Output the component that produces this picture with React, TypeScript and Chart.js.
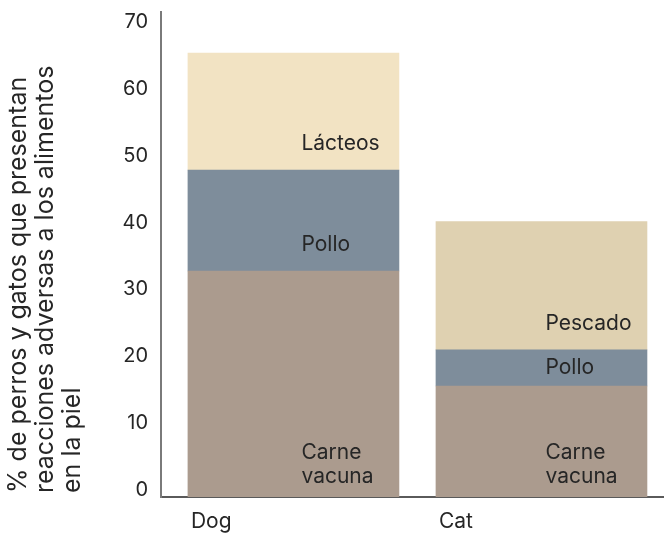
import React, { useEffect, useRef } from 'react';
import { Chart, registerables } from 'chart.js';

Chart.register(...registerables);

const categories = ['Dog', 'Cat'];
const carneVacuna = [33.8, 16.6];
const pollo = [15.1, 5.4];
const lacteos: (number | null)[] = [17.5, null];
const pescado: (number | null)[] = [null, 19.2];
const yTicks = [0, 10, 20, 30, 40, 50, 60, 70];
const yTitleLines = [
  '% de perros y gatos que presentan',
  'reacciones adversas a los alimentos',
  'en la piel',
];
const seriesNames = {
  carne: ['Carne', 'vacuna'],
  pollo: ['Pollo'],
  lacteos: ['Lácteos'],
  pescado: ['Pescado'],
};

const FONT = 'Inter, "Noto Sans", sans-serif';
const TEXT = '#262626';
const BAR_W = 211;

function toPoints(arr: (number | null)[]) {
  return arr
    .map((v, i) => (v == null ? null : { x: i, y: v }))
    .filter((p) => p !== null) as { x: number; y: number }[];
}

export default function App() {
  const ref = useRef<HTMLCanvasElement | null>(null);

  useEffect(() => {
    const canvas = ref.current;
    if (!canvas) return;

    const labelPlugin = {
      id: 'segLabels',
      afterDatasetsDraw(chart: any) {
        const ctx = chart.ctx;
        ctx.save();
        ctx.fillStyle = TEXT;
        ctx.font = `21px ${FONT}`;
        ctx.textAlign = 'left';
        ctx.textBaseline = 'middle';
        const shift = [8, 4];
        chart.data.datasets.forEach((ds: any, di: number) => {
          const meta = chart.getDatasetMeta(di);
          const lines: string[] = ds.segLines;
          meta.data.forEach((el: any, j: number) => {
            const idx = ds.data[j].x;
            const top = el.y;
            const bottom = el.base;
            const h = bottom - top;
            const x = el.x + shift[idx];
            const lh = 24;
            let lastY: number;
            if (h < 50) {
              lastY = (top + bottom) / 2 + ((lines.length - 1) * lh) / 2;
            } else {
              lastY = bottom - (lines.length > 1 ? 20 : 26);
            }
            lines.forEach((t, k) => {
              ctx.fillText(t, x, lastY - (lines.length - 1 - k) * lh);
            });
          });
        });
        ctx.restore();
      },
      afterDraw(chart: any) {
        const ctx = chart.ctx;
        const xs = chart.scales.x;
        ctx.save();
        ctx.fillStyle = TEXT;
        ctx.font = `21px ${FONT}`;
        ctx.textAlign = 'left';
        ctx.textBaseline = 'middle';
        categories.forEach((c, i) => {
          const cx = xs.getPixelForValue(i);
          ctx.fillText(c, cx - BAR_W / 2 + 3, 522);
        });
        ctx.font = `25px ${FONT}`;
        const xsPos = [18, 45, 72];
        yTitleLines.forEach((t, i) => {
          ctx.save();
          ctx.translate(xsPos[i], 493);
          ctx.rotate(-Math.PI / 2);
          ctx.textAlign = 'left';
          ctx.textBaseline = 'middle';
          ctx.fillText(t, 0, 0);
          ctx.restore();
        });
        ctx.restore();
      },
    };

    const chart = new Chart(canvas, {
      type: 'bar',
      data: {
        datasets: [
          {
            label: 'Carne vacuna',
            data: toPoints(carneVacuna),
            backgroundColor: '#ab9b8e',
            barThickness: BAR_W,
            segLines: seriesNames.carne,
          } as any,
          {
            label: 'Pollo',
            data: toPoints(pollo),
            backgroundColor: '#7e8d9b',
            barThickness: BAR_W,
            segLines: seriesNames.pollo,
          } as any,
          {
            label: 'Lácteos',
            data: toPoints(lacteos),
            backgroundColor: '#f2e3c3',
            barThickness: BAR_W,
            segLines: seriesNames.lacteos,
          } as any,
          {
            label: 'Pescado',
            data: toPoints(pescado),
            backgroundColor: '#dfd1b1',
            barThickness: BAR_W,
            segLines: seriesNames.pescado,
          } as any,
        ],
      },
      options: {
        responsive: false,
        animation: false,
        layout: { padding: { top: 12, left: 0, right: 0, bottom: 0 } },
        plugins: {
          legend: { display: false },
          tooltip: { enabled: false },
        },
        scales: {
          x: {
            type: 'linear',
            stacked: true,
            offset: false,
            min: -0.534,
            max: 1.494,
            grid: { display: false, drawTicks: false },
            border: { display: true, color: '#5a5a5a', width: 2 },
            ticks: { display: false },
            afterFit: (s: any) => {
              s.height = 37;
              s.paddingLeft = 0;
              s.paddingRight = 0;
            },
          },
          y: {
            stacked: true,
            min: 0,
            max: 72.54,
            grid: { display: false, drawTicks: false },
            border: { display: true, color: '#7a7a7a', width: 2 },
            afterBuildTicks: (s: any) => {
              s.ticks = yTicks.map((v) => ({ value: v }));
            },
            ticks: {
              color: TEXT,
              font: { family: FONT, size: 20 },
              padding: 13,
              labelOffset: -7,
            },
            afterFit: (s: any) => {
              s.width = 161;
              s.paddingTop = 0;
              s.paddingBottom = 0;
            },
          },
        },
      } as any,
      plugins: [labelPlugin],
    });

    return () => chart.destroy();
  }, []);

  return (
    <div style={{ position: 'fixed', left: 0, top: 0, width: 664, height: 534, background: '#fff' }}>
      <canvas ref={ref} width={664} height={534} style={{ display: 'block' }} />
    </div>
  );
}
